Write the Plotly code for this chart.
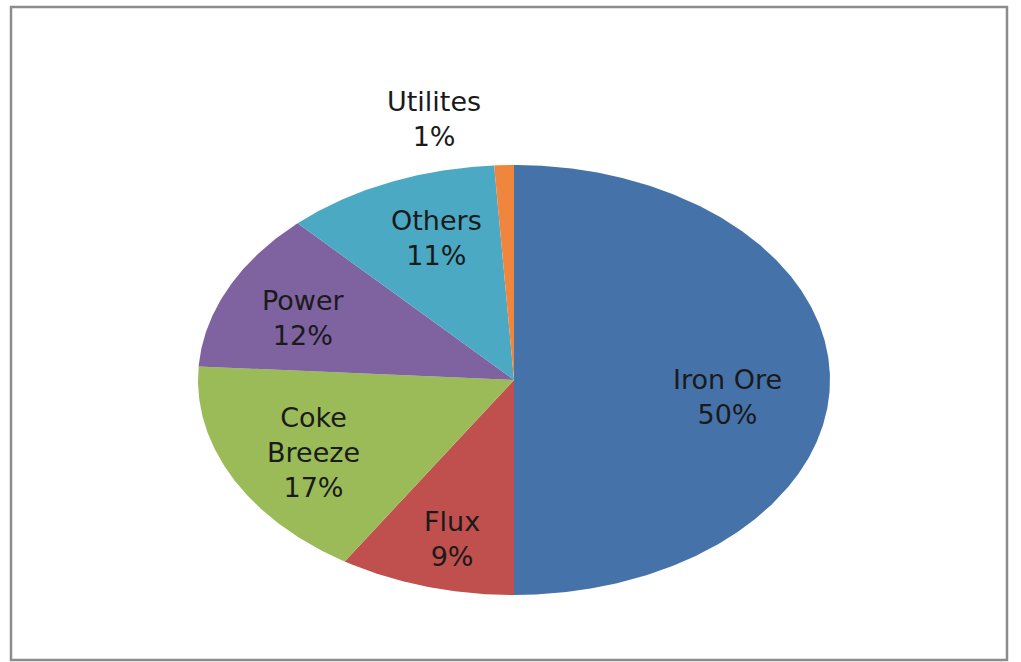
import numpy as np
import plotly.graph_objects as go

# Sinter cost breakdown (share of total, %)
categories = ["Iron Ore", "Flux", "Coke Breeze", "Power", "Others", "Utilites"]
values = [50, 9, 17, 12, 11, 1]
colors = ["#4672AA", "#C0504D", "#9BBB59", "#7F62A0", "#4BA9C3", "#F0863E"]

W, H = 1021, 662
cx_px, cy_px = 514, 380      # pie centre in the page
rx_px, ry_px = 316, 215      # half-width / half-height of the (stretched) pie

# fine placement of each data label (pixels: right, up)
label_nudge = {
    "Iron Ore": (-8, -17),
    "Flux": (0, -14),
    "Coke Breeze": (-3, -4),
    "Power": (-10, -2),
    "Others": (10, 4),
    "Utilites": (-68, -1),
}

fig = go.Figure()

total = float(sum(values))
start = 0.0  # clockwise from 12 o'clock, in fractions of a turn
label_pos = []
for name, v, c in zip(categories, values, colors):
    frac = v / total
    t = np.linspace(start, start + frac, max(int(frac * 720), 8)) * 2 * np.pi
    xs = np.concatenate([[0], np.sin(t), [0]])
    ys = np.concatenate([[0], np.cos(t), [0]])
    fig.add_trace(go.Scatter(
        x=xs, y=ys, mode="lines", fill="toself", fillcolor=c,
        line=dict(width=0, color=c), hoverinfo="text",
        text=f"{name}: {v}%", showlegend=False,
    ))
    mid = (start + frac / 2) * 2 * np.pi
    label_pos.append((name, v, mid, frac))
    start += frac

font = dict(family="DejaVu Sans, sans-serif", size=27, color="#1a1a1a")
for name, v, mid, frac in label_pos:
    text = f"{name}<br>{v}%"
    if name == "Coke Breeze":
        text = f"Coke<br>Breeze<br>{v}%"
    r = 1.22 if frac < 0.03 else 0.7   # small slices get their label outside
    dx, dy = label_nudge[name]
    fig.add_annotation(x=r * np.sin(mid), y=r * np.cos(mid), text=text,
                       showarrow=False, font=font, xshift=dx, yshift=dy)

fig.update_xaxes(range=[-cx_px / rx_px, (W - cx_px) / rx_px], visible=False, fixedrange=True)
fig.update_yaxes(range=[-(H - cy_px) / ry_px, cy_px / ry_px], visible=False, fixedrange=True)

# chart frame
fig.add_shape(type="rect", xref="paper", yref="paper",
              x0=11 / W, x1=1007 / W, y0=1 - 660 / H, y1=1 - 7 / H,
              line=dict(color="#8c8c8c", width=2.5), fillcolor="rgba(0,0,0,0)", layer="below")

fig.update_layout(
    width=W, height=H, margin=dict(l=0, r=0, t=0, b=0),
    paper_bgcolor="white", plot_bgcolor="white",
    showlegend=False,
)
fig.write_html("out.html")
